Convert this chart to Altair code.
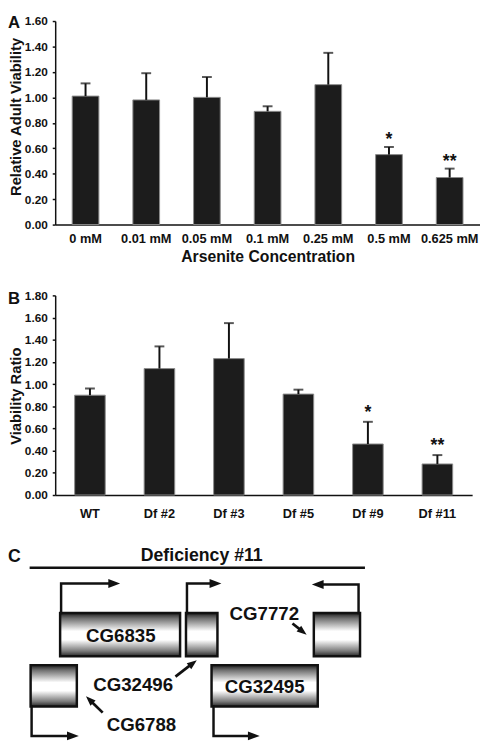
import math
import numpy as np
import pandas as pd
import altair as alt

FONT = "Liberation Sans"
INK = "#111111"
BAR = "#1c1c1c"

# ---------------- Panel A data ----------------
a_conc = ["0 mM", "0.01 mM", "0.05 mM", "0.1 mM", "0.25 mM", "0.5 mM", "0.625 mM"]
a_viab = [1.01, 0.98, 1.00, 0.89, 1.10, 0.55, 0.37]
a_sd = [0.10, 0.21, 0.16, 0.04, 0.25, 0.06, 0.07]
a_sig = ["", "", "", "", "", "*", "**"]

# ---------------- Panel B data ----------------
b_line = ["WT", "Df #2", "Df #3", "Df #5", "Df #9", "Df #11"]
b_ratio = [0.90, 1.14, 1.23, 0.91, 0.46, 0.28]
b_sd = [0.06, 0.20, 0.32, 0.04, 0.20, 0.08]
b_sig = ["", "", "", "", "*", "**"]

# ---------------- Panel C data (diagram units) ----------------
df11_span = [30, 371]
df11_level = 571
df11_label = "Deficiency #11"
df11_label_pos = [205, 564]

gene_names = ["CG6835", "CG32496", "CG7772", "CG6788", "CG32495"]
gene_start = [61, 189, 319, 31, 215]
gene_end = [183, 221, 366, 78, 323]
gene_top = [617, 617, 617, 670, 670]
gene_bottom = [661, 661, 661, 712, 712]

tss_x = [62, 190, 364.5, 32, 217]
tss_from = [617, 617, 617, 712, 712]
tss_bend = [587, 587, 588, 742, 742]
tss_tip = [122, 225, 317, 80, 264]

label_text = ["CG6835", "CG7772", "CG32496", "CG32495", "CG6788"]
label_x = [122.7, 268.7, 135.3, 269, 143.7]
label_y = [646.5, 624.5, 696.5, 698, 736.5]

ptr_x0 = [297.3, 178.3, 104.3]
ptr_y0 = [627.7, 681.7, 718.3]
ptr_x1 = [311.7, 200.0, 87.3]
ptr_y1 = [639.0, 665.0, 701.7]

panel_c_letter = ["C"]
panel_c_letter_pos = [8, 565]


def bar_panel(cats, vals, sds, sig, ymax, ytitle, xtitle, letter, width, height,
              label_pad, title_y, star_dy, letter_y):
    df = pd.DataFrame({"cat": cats, "v": vals, "sd": sds, "sig": sig})
    df["top"] = df["v"] + df["sd"]
    ticks = [round(float(t), 2) for t in np.arange(0, ymax + 0.001, 0.2)]
    xaxis = alt.Axis(labelAngle=0, ticks=False, labelPadding=label_pad,
                     labelFontSize=13, domainWidth=1.5, titleFontSize=16,
                     titlePadding=4, labelOverlap=False)
    xscale = alt.Scale(paddingInner=0.56, paddingOuter=0.28)
    xt = xtitle if xtitle else None

    def xenc():
        return alt.X("cat:N", sort=cats, title=xt, scale=xscale, axis=xaxis)

    yscale = alt.Scale(domain=[0, ymax], nice=False, zero=True)
    yaxis = alt.Axis(values=ticks, format=".2f", tickSize=3, tickWidth=1.5,
                     labelFontSize=12, labelPadding=5, domainWidth=1.5,
                     labelOverlap=False, labelBound=False, labelFlush=False,
                     titleFontSize=15, titleAngle=270,
                     titleX=-35, titleY=title_y, titleAlign="center",
                     titleBaseline="alphabetic")

    def yenc(field):
        return alt.Y(field, type="quantitative", title=ytitle, scale=yscale, axis=yaxis)

    base = alt.Chart(df)
    bars = base.mark_bar(color=BAR, stroke="#8c8c8c", strokeWidth=1).encode(
        x=xenc(), y=yenc("v"))
    err = base.mark_rule(color=INK, strokeWidth=2).encode(
        x=xenc(), y=yenc("v"), y2="top:Q")
    cap = base.mark_tick(color=INK, thickness=2, size=10, orient="horizontal").encode(
        x=xenc(), y=yenc("top"))
    stars = base.mark_text(fontSize=18, fontWeight="bold", color=INK,
                           baseline="alphabetic", dy=star_dy).encode(
        x=xenc(), y=yenc("top"), text="sig:N")
    tag = alt.Chart(pd.DataFrame({"t": [letter]})).mark_text(
        fontSize=17, fontWeight="bold", color=INK, align="left",
        baseline="alphabetic").encode(
        x=alt.value(-48), y=alt.value(letter_y), text="t:N")
    return alt.layer(bars, err, cap, stars, tag).properties(width=width, height=height)


chart_a = bar_panel(a_conc, a_viab, a_sd, a_sig, 1.6, "Relative Adult Viability",
                    "Arsenite Concentration", "A", 432, 207, 8, 97, -2, 7)
chart_b = bar_panel(b_line, b_ratio, b_sd, b_sig, 1.8, "Viability Ratio",
                    "", "B", 424, 203, 13, 102, -4, 9)

# ---------------- Panel C: the deficiency diagram ----------------
xs = alt.Scale(domain=[56, 488], nice=False, zero=False)
ys = alt.Scale(domain=[569, 745], nice=False, zero=False, reverse=True)


def X(f):
    return alt.X(f, type="quantitative", scale=xs, axis=None)


def Y(f):
    return alt.Y(f, type="quantitative", scale=ys, axis=None)


line_df = pd.DataFrame({"x": [df11_span[0]], "x2": [df11_span[1]], "y": [df11_level]})
defline = alt.Chart(line_df).mark_rule(color=INK, strokeWidth=2.5).encode(
    x=X("x"), x2="x2:Q", y=Y("y"))

deftext_df = pd.DataFrame({"x": [df11_label_pos[0]], "y": [df11_label_pos[1]],
                           "t": [df11_label]})
deftext = alt.Chart(deftext_df).mark_text(fontSize=18, fontWeight="bold", color=INK,
                                          baseline="alphabetic", align="center").encode(
    x=X("x"), y=Y("y"), text="t:N")

letter_df = pd.DataFrame({"x": [panel_c_letter_pos[0]], "y": [panel_c_letter_pos[1]],
                          "t": panel_c_letter})
letter_c = alt.Chart(letter_df).mark_text(fontSize=18, fontWeight="bold", color=INK,
                                          baseline="alphabetic", align="left").encode(
    x=X("x"), y=Y("y"), text="t:N")

box_df = pd.DataFrame({"gene": gene_names, "x": gene_start, "x2": gene_end,
                       "y": gene_top, "y2": gene_bottom})
grad = alt.LinearGradient(
    gradient="linear", x1=0, x2=0, y1=0, y2=1,
    stops=[alt.GradientStop(offset=0, color="#1e1e1e"),
           alt.GradientStop(offset=0.12, color="#6e6e6e"),
           alt.GradientStop(offset=0.42, color="#ffffff"),
           alt.GradientStop(offset=0.62, color="#ffffff"),
           alt.GradientStop(offset=0.88, color="#7a7a7a"),
           alt.GradientStop(offset=1, color="#262626")])
boxes = alt.Chart(box_df).mark_rect(fill=grad, stroke=INK, strokeWidth=2.5).encode(
    x=X("x"), x2="x2:Q", y=Y("y"), y2="y2:Q")

HEAD_LEN = 12
rows = []
heads = []
for i in range(len(tss_x)):
    direction = 1 if tss_tip[i] > tss_x[i] else -1
    rows.append({"id": i, "k": 0, "x": tss_x[i], "y": tss_from[i]})
    rows.append({"id": i, "k": 1, "x": tss_x[i], "y": tss_bend[i]})
    rows.append({"id": i, "k": 2, "x": tss_tip[i] - direction * HEAD_LEN * 0.6,
                 "y": tss_bend[i]})
    heads.append({"x": tss_tip[i], "y": tss_bend[i], "ang": 0 if direction > 0 else 180})
tss_df = pd.DataFrame(rows)
head_df = pd.DataFrame(heads)

bent = alt.Chart(tss_df).mark_line(color=INK, strokeWidth=2.5, strokeJoin="miter",
                                   strokeCap="square").encode(
    x=X("x"), y=Y("y"), detail="id:N", order="k:Q")
HEAD = "M 0 0 L -2 -0.75 L -2 0.75 Z"
bent_heads = alt.Chart(head_df).mark_point(shape=HEAD, filled=True, size=144, color=INK,
                                           opacity=1, strokeWidth=0).encode(
    x=X("x"), y=Y("y"), angle=alt.Angle("ang:Q", scale=None))

PTR_HEAD_LEN = 10
ptr = pd.DataFrame({"x0": ptr_x0, "y0": ptr_y0, "x1": ptr_x1, "y1": ptr_y1})
ptr["ang"] = [(math.degrees(math.atan2(b1 - b0, a1 - a0)) + 360) % 360
              for a0, b0, a1, b1 in zip(ptr_x0, ptr_y0, ptr_x1, ptr_y1)]
ptr["xe"] = ptr["x1"] - PTR_HEAD_LEN * 0.5 * np.cos(np.radians(ptr["ang"]))
ptr["ye"] = ptr["y1"] - PTR_HEAD_LEN * 0.5 * np.sin(np.radians(ptr["ang"]))
ptr_lines = alt.Chart(ptr).mark_rule(color=INK, strokeWidth=2.8).encode(
    x=X("x0"), y=Y("y0"), x2="xe:Q", y2="ye:Q")
ptr_heads = alt.Chart(ptr).mark_point(shape=HEAD, filled=True, size=PTR_HEAD_LEN ** 2,
                                      color=INK, opacity=1, strokeWidth=0).encode(
    x=X("x1"), y=Y("y1"), angle=alt.Angle("ang:Q", scale=None))

lab_df = pd.DataFrame({"t": label_text, "x": label_x, "y": label_y})
labels = alt.Chart(lab_df).mark_text(fontSize=19, fontWeight="bold", color=INK,
                                     baseline="alphabetic", align="center").encode(
    x=X("x"), y=Y("y"), text="t:N")

chart_c = alt.layer(defline, deftext, letter_c, boxes, bent, bent_heads,
                    ptr_lines, ptr_heads, labels).properties(width=432, height=176)

chart = alt.vconcat(chart_a, chart_b, chart_c, spacing=72, bounds="flush").properties(
    padding=0
).configure(font=FONT).configure_axis(
    labelFont=FONT, titleFont=FONT, labelFontWeight="bold", titleFontWeight="bold",
    labelColor=INK, titleColor=INK, domainColor=INK, tickColor=INK, grid=False,
    labelOverlap=False
).configure_view(strokeWidth=0)

chart.save("out.html", embed_options={"renderer": "svg", "actions": False})
